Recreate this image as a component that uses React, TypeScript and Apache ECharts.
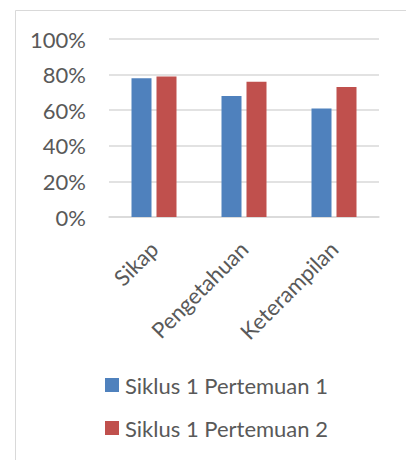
import React, { useEffect, useRef } from "react";
import * as echarts from "echarts";

const categories = ["Sikap", "Pengetahuan", "Keterampilan"];
const seriesNames = ["Siklus 1 Pertemuan 1", "Siklus 1 Pertemuan 2"];
const pertemuan1 = [78, 68, 61];
const pertemuan2 = [79, 76, 73];
const yTicks = [0, 20, 40, 60, 80, 100];

const FONT = "Lato";
const TXT = "#595959";

export default function App() {
  const ref = useRef<HTMLDivElement>(null);
  useEffect(() => {
    document.body.style.margin = "0";
    const chart = echarts.init(ref.current!, null, { renderer: "svg" });
    chart.setOption({
      animation: false,
      textStyle: { fontFamily: FONT },
      graphic: [
        {
          type: "rect",
          shape: { x: 15.5, y: 10.5, width: 600, height: 600 },
          style: { fill: "none", stroke: "#d9d9d9", lineWidth: 1 },
          silent: true,
        },
      ],
      grid: { left: 109, right: 27, top: 39, height: 178 },
      legend: {
        orient: "vertical",
        left: 105,
        top: 374,
        padding: 0,
        itemWidth: 14,
        itemHeight: 14,
        itemGap: 21,
        itemStyle: { borderWidth: 0 },
        icon: "rect",
        textStyle: { fontSize: 22, color: TXT, fontFamily: FONT, padding: [0, 0, 0, 1] },
        data: seriesNames,
      },
      xAxis: {
        type: "category",
        data: categories,
        axisLine: { lineStyle: { color: "#d9d9d9", width: 1.5 } },
        axisTick: { show: false },
        axisLabel: { rotate: 45, fontSize: 22, color: TXT, margin: 28, fontFamily: FONT },
      },
      yAxis: {
        type: "value",
        min: yTicks[0],
        max: yTicks[yTicks.length - 1],
        interval: 20,
        axisLine: { show: false },
        axisTick: { show: false },
        splitLine: { lineStyle: { color: "#d9d9d9", width: 1.5 } },
        axisLabel: { formatter: "{value}%", fontSize: 22, color: TXT, margin: 23, fontFamily: FONT },
      },
      series: [
        {
          name: seriesNames[0],
          type: "bar",
          data: pertemuan1,
          barWidth: 20,
          barGap: "25%",
          itemStyle: { color: "#4f81bd" },
        },
        {
          name: seriesNames[1],
          type: "bar",
          data: pertemuan2,
          barWidth: 20,
          itemStyle: { color: "#c0504d" },
        },
      ],
    });
    return () => chart.dispose();
  }, []);
  return <div ref={ref} style={{ width: 406, height: 460 }} />;
}
